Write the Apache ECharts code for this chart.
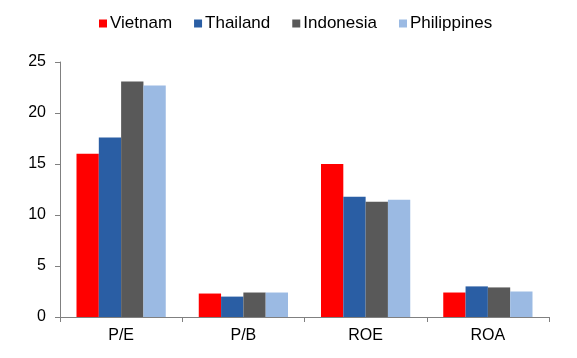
<!DOCTYPE html>
<html><head><meta charset="utf-8">
<script src="https://cdn.jsdelivr.net/npm/echarts@6/dist/echarts.min.js"></script>
<style>html,body{margin:0;padding:0;background:#fff}#c{width:577px;height:358px}</style>
</head><body><div id="c"></div>
<script>
const categories = ['P/E', 'P/B', 'ROE', 'ROA'];
const vietnam = [16.0, 2.3, 15.0, 2.4];
const thailand = [17.6, 2.0, 11.8, 3.0];
const indonesia = [23.1, 2.4, 11.3, 2.9];
const philippines = [22.7, 2.4, 11.5, 2.5];
const seriesNames = ['Vietnam', 'Thailand', 'Indonesia', 'Philippines'];
const colors = ['#FF0000', '#2A5EA4', '#595959', '#9BBAE3'];
const values = [vietnam, thailand, indonesia, philippines];

const chart = echarts.init(document.getElementById('c'), null, {renderer: 'canvas'});
chart.setOption({
  animation: false,
  textStyle: {fontFamily: 'Liberation Sans, Arial, sans-serif'},
  legend: {
    top: 10, left: 94,
    itemWidth: 8, itemHeight: 8, itemGap: 22,
    icon: 'rect',
    textStyle: {fontSize: 17, color: '#000', padding: [0, 0, 0, -2]},
    data: seriesNames
  },
  grid: {left: 60, right: 28, top: 62, bottom: 41, containLabel: false},
  xAxis: {
    type: 'category', data: categories,
    axisLine: {lineStyle: {color: '#808080', width: 1}},
    axisTick: {show: true, length: 5, lineStyle: {color: '#808080'}},
    axisLabel: {fontSize: 16, color: '#000', margin: 11}
  },
  yAxis: {
    type: 'value', min: 0, max: 25, interval: 5,
    axisLine: {show: true, lineStyle: {color: '#808080'}},
    axisTick: {show: true, length: 5, inside: false, lineStyle: {color: '#808080'}},
    splitLine: {show: false},
    axisLabel: {fontSize: 16, color: '#000', margin: 14}
  },
  series: seriesNames.map((n, i) => ({
    name: n, type: 'bar', data: values[i],
    barGap: '0%', barCategoryGap: '27%',
    itemStyle: {color: colors[i]}
  }))
});
</script></body></html>
